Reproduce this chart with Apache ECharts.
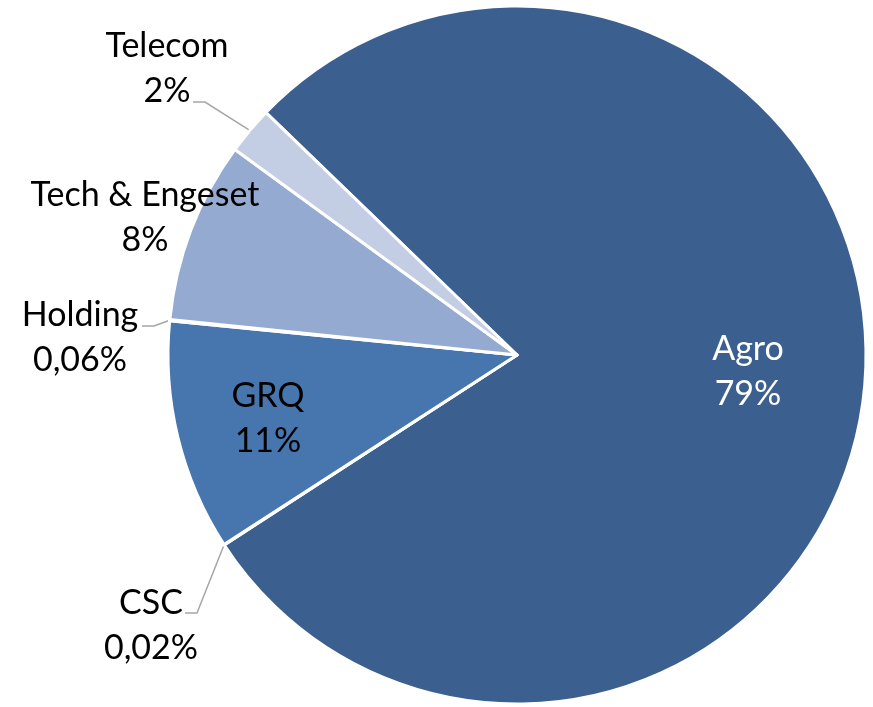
<!DOCTYPE html>
<html>
<head>
<meta charset="utf-8">
<script src="https://cdn.jsdelivr.net/npm/echarts@6/dist/echarts.min.js"></script>
<style>
  html, body { margin: 0; padding: 0; background: #fff; }
  #main { width: 873px; height: 707px; }
</style>
</head>
<body>
<div id="main"></div>
<script>
// data (shares in %, clockwise from the Agro slice)
var names = ['Agro', 'CSC', 'GRQ', 'Holding', 'Tech & Engeset', 'Telecom'];
var values = [78.6, 0.02, 10.7, 0.06, 8.4, 2.2];
var pctLabels = ['79%', '0,02%', '11%', '0,06%', '8%', '2%'];

var colors = ['#3B608F', '#3B608F', '#4776AF', '#95AAD0', '#95AAD0', '#C3CDE3'];
// where each label block sits (centre of the text)
var labelPos = [
  [748, 372], [151, 626], [268, 419], [80, 338], [145, 218], [167, 69]
];
// where the leader line leaves the text (null = no line)
var lineStart = [null, [185, 613], null, [142, 326], null, [193, 102]];
var elbowLen = 12;

var chart = echarts.init(document.getElementById('main'));

var pieData = names.map(function (n, i) {
  return {
    name: n,
    value: values[i],
    itemStyle: { color: colors[i] },
    label: { color: i === 0 ? '#fff' : '#000' },
    labelLine: { show: !!lineStart[i] }
  };
});

chart.setOption({
  animation: false,
  series: [{
    type: 'pie',
    center: [517, 355],
    radius: 349,
    startAngle: 136,
    clockwise: true,
    avoidLabelOverlap: false,
    itemStyle: {
      borderColor: '#fff',
      borderWidth: 3
    },
    label: {
      show: true,
      position: 'outside',
      fontFamily: 'Lato',
      fontSize: 34,
      lineHeight: 45,
      align: 'center',
      formatter: function (p) {
        return p.name + '\n' + pctLabels[p.dataIndex];
      }
    },
    labelLine: {
      show: true,
      length: 10,
      length2: 12,
      lineStyle: { color: '#A6A6A6', width: 1.5 }
    },
    labelLayout: function (p) {
      var xy = labelPos[p.dataIndex];
      var out = { x: xy[0], y: xy[1], align: 'center', verticalAlign: 'middle' };
      var s = lineStart[p.dataIndex];
      if (s && p.labelLinePoints) {
        // keep the edge point the pie computed, redraw the elbow to the text
        var edge = p.labelLinePoints[0];
        out.labelLinePoints = [
          [edge[0], edge[1]],
          [s[0] + elbowLen, s[1]],
          [s[0], s[1]]
        ];
      }
      return out;
    },
    emphasis: { disabled: true },
    data: pieData
  }]
});
</script>
</body>
</html>
